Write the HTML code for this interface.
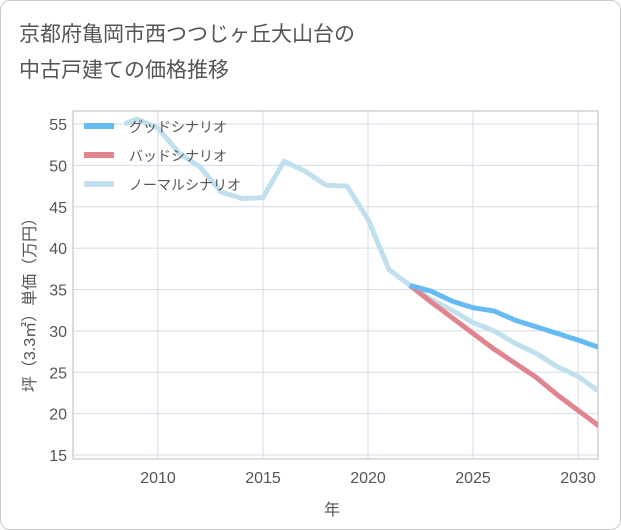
<!DOCTYPE html>
<html><head><meta charset="utf-8"><style>
body{margin:0;background:#fff;font-family:"Liberation Sans","Noto Sans CJK JP",sans-serif;}
#wrap{position:relative;width:619px;height:528px;border:1px solid #ccc;border-radius:10px;overflow:hidden;background:#fff}
</style></head><body>
<div id="wrap">
<svg id="c" width="619" height="528"></svg>
</div>
<script>
const years=[2008.4,2009,2010,2011,2012,2013,2014,2015,2016,2017,2018,2019,2020,2021,2022,2023,2024,2025,2026,2027,2028,2029,2030,2031];
const normal=[55,55.6,54.5,51.5,49.8,46.8,46,46.1,50.5,49.3,47.6,47.5,43.5,37.4,35.5,33.8,32.5,31,30,28.5,27.3,25.7,24.5,22.7];
const fYears=[2022,2023,2024,2025,2026,2027,2028,2029,2030,2031];
const good=[35.5,34.8,33.6,32.8,32.4,31.3,30.5,29.7,28.9,28.0];
const bad=[35.5,33.5,31.6,29.7,27.8,26.1,24.4,22.3,20.4,18.5];
const xTicks=[2010,2015,2020,2025,2030];
const yTicks=[15,20,25,30,35,40,45,50,55];
const NS='http://www.w3.org/2000/svg';
const svg=document.getElementById('c');
const L=72,R=597,T=110,B=458;
const X=y=>157+(y-2010)*21;
const Y=v=>123+(55-v)*8.275;
function mk(t,a,p){const e=document.createElementNS(NS,t);for(const k in a)e.setAttribute(k,a[k]);(p||svg).appendChild(e);return e;}
function tx(x,y,s,o){const e=mk('text',Object.assign({x:x,y:y,fill:'#555','font-size':16},o||{}));e.textContent=s;return e;}
let e;
e=tx(18,40,'京都府亀岡市西つつじヶ丘大山台の',{'font-size':21,fill:'#555'});


e=tx(18,76,'中古戸建ての価格推移',{'font-size':21,fill:'#555'});


for(const v of yTicks){
 e=mk('line',{x1:L,x2:R,y1:Y(v),y2:Y(v),stroke:'#d5dde5'});
 
 
 e=tx(L-6,Y(v)+6,String(v),{'text-anchor':'end'});
 
 
}
for(const v of xTicks){
 e=mk('line',{x1:X(v),x2:X(v),y1:T,y2:B,stroke:'#d5dde5'});
 
 
 e=tx(X(v),482,String(v),{'text-anchor':'middle'});
 
 
}
e=mk('rect',{x:L,y:T,width:R-L,height:B-T,fill:'none',stroke:'#bbb'});


e=tx(331,514,'年',{'text-anchor':'middle'});


e=tx(0,0,'坪（3.3㎡）単価（万円）',{'text-anchor':'middle',transform:'translate(34,300) rotate(-90)'});


const clip=mk('clipPath',{id:'cp'});mk('rect',{x:L,y:T,width:R-L,height:B-T},clip);
function line(xs,vs,col,name){
 const d=xs.map((x,i)=>(i?'L':'M')+X(x)+','+Y(vs[i])).join('');
 const p=mk('path',{d:d,fill:'none',stroke:col,'stroke-width':5,'stroke-linejoin':'round','clip-path':'url(#cp)'});
 
 
}
line(years,normal,'#bfe0ec','normal-scenario-line');
line(fYears,bad,'#e0858f','bad-scenario-line');
line(fYears,good,'#66bbf3','good-scenario-line');
const leg=[['グッドシナリオ','#66bbf3'],['バッドシナリオ','#e0858f'],['ノーマルシナリオ','#bfe0ec']];
leg.forEach((l,i)=>{
 const g=mk('g',{});
 
 
 mk('line',{x1:83,x2:113,y1:125+i*29,y2:125+i*29,stroke:l[1],'stroke-width':6},g);
 const t=mk('text',{x:128,y:131+i*29,fill:'#555','font-size':14},g);t.textContent=l[0];
});
</script>
</body></html>
